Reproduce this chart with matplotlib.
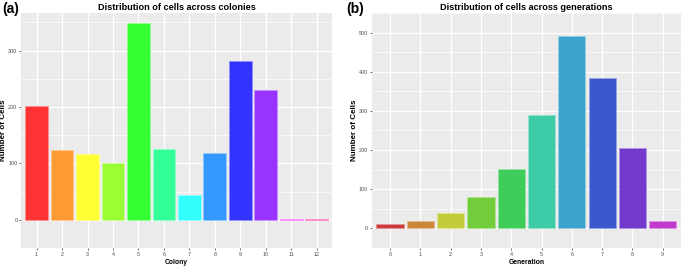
import matplotlib
matplotlib.use("Agg")
import matplotlib.pyplot as plt
import matplotlib.colors as mcolors
import numpy as np

plt.rcParams["font.family"] = ["Liberation Sans", "DejaVu Sans"]

colonies = ["1", "2", "3", "4", "5", "6", "7", "8", "9", "10", "11", "12"]
colony_cells = [201, 123, 116, 100, 349, 126, 44, 118, 282, 230, 1, 1]
colony_colors = ["#FF3333", "#FF9933", "#FFFF33", "#99FF33", "#33FF33", "#33FF99",
                 "#33FFFF", "#3399FF", "#3333FF", "#9933FF", "#FF33FF", "#FF3399"]

generations = ["0", "1", "2", "3", "4", "5", "6", "7", "8", "9"]
generation_cells = [12, 20, 40, 80, 152, 290, 491, 383, 206, 20]
generation_colors = ["#CC3B3B", "#CC873B", "#C3CC3B", "#72CC3B", "#3ECC5A",
                     "#3ECCA8", "#3CA3CC", "#3D57CC", "#7239CC", "#C03BCC"]


def lighter(c, f=0.45):
    r, g, b = mcolors.to_rgb(c)
    return (r + (1 - r) * f, g + (1 - g) * f, b + (1 - b) * f)


def gg_bars(ax, cats, vals, cols, yticks, title, xlabel):
    x = np.arange(len(cats))
    ax.set_facecolor("#EBEBEB")
    ax.bar(x, vals, width=0.9, color=cols, edgecolor=[lighter(c) for c in cols],
           linewidth=0.6, zorder=3)
    vmax = max(vals)
    ax.set_ylim(-0.05 * vmax, 1.05 * vmax)
    ax.set_xlim(-0.6, len(cats) - 0.4)
    ax.set_xticks(x)
    ax.set_xticklabels(cats)
    ax.set_yticks(yticks)
    ax.set_yticklabels([str(t) for t in yticks])
    step = yticks[1] - yticks[0]
    minor = [t + step / 2 for t in [yticks[0] - step] + yticks]
    ax.set_yticks(minor, minor=True)
    ax.grid(True, which="major", color="white", linewidth=0.9, zorder=0)
    ax.grid(True, which="minor", axis="y", color="white", linewidth=0.45, zorder=0)
    ax.tick_params(which="minor", length=0)
    ax.tick_params(which="major", labelsize=3.9, labelcolor="#4D4D4D", color="#333333",
                   length=1.5, width=0.5, pad=1.2)
    for s in ax.spines.values():
        s.set_visible(False)
    ax.set_title(title, fontsize=6.6, fontweight="bold", pad=2.5)
    ax.set_xlabel(xlabel, fontsize=4.9, fontweight="bold", labelpad=1.5)
    ax.set_ylabel("Number of Cells", fontsize=5.8, fontweight="bold", labelpad=0.8)


fig = plt.figure(figsize=(6.85, 2.66), dpi=100)
ax1 = fig.add_axes([0.031, 0.068, 0.454, 0.883])
ax2 = fig.add_axes([0.543, 0.068, 0.451, 0.883])

gg_bars(ax1, colonies, colony_cells, colony_colors, [0, 100, 200, 300],
        "Distribution of cells across colonies", "Colony")
gg_bars(ax2, generations, generation_cells, generation_colors, [0, 100, 200, 300, 400, 500],
        "Distribution of cells across generations", "Generation")

fig.text(0.004, 0.965, "(a)", fontsize=10, fontweight="bold", va="center")
fig.text(0.506, 0.965, "(b)", fontsize=10, fontweight="bold", va="center")

fig.savefig("out.png", dpi=100)
